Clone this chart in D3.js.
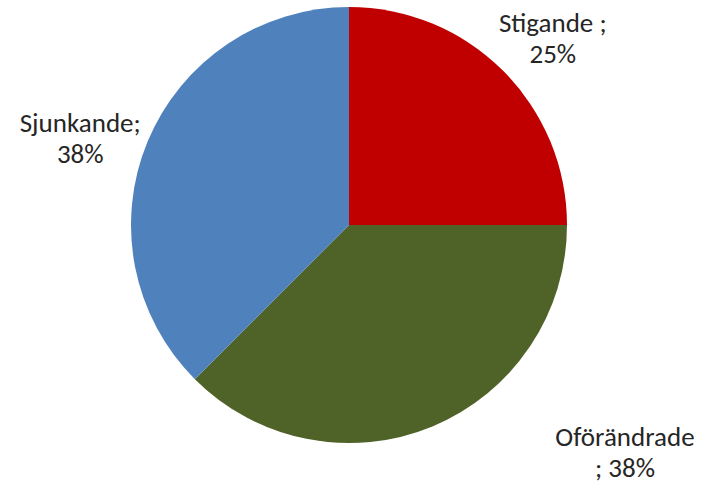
<!DOCTYPE html>
<html>
<head>
<meta charset="utf-8">
<script src="https://cdn.jsdelivr.net/npm/d3@7"></script>
<style>
  body { margin: 0; background: #fff; }
  text { font-family: Carlito, Calibri, "Liberation Sans", sans-serif; fill: #262626; }
</style>
</head>
<body>
<div id="chart"></div>
<script>
// data
var categories = ["Stigande", "Oförändrade", "Sjunkande"];
var values = [25, 37.5, 37.5];
var labelLines = [["Stigande ;", "25%"], ["Oförändrade", "; 38%"], ["Sjunkande;", "38%"]];
var colors = ["#C00000", "#4F6228", "#4F81BD"];

var width = 712, height = 483;
var cx = 349, cy = 225, radius = 218;

var svg = d3.select("#chart")
  .append("svg")
    .attr("width", width)
    .attr("height", height)
  .append("g")
    .attr("transform", `translate(${cx},${cy})`);

var pie = d3.pie().sort(null).value(function(d) { return d; });
var arcs = pie(values);

var arc = d3.arc().innerRadius(0).outerRadius(radius);

svg.selectAll("path.slice")
  .data(arcs)
  .enter().append("path")
    .attr("class", "slice")
    .attr("d", arc)
    .attr("fill", function(d, i) { return colors[i]; });

// labels sit outside the pie, nudged like the manual Excel placement
var labelArc = d3.arc().innerRadius(radius * 1.27).outerRadius(radius * 1.27);
var nudge = [[8, 10], [170, -27], [-13, 20]];

var labels = svg.selectAll("text.lbl")
  .data(arcs)
  .enter().append("text")
    .attr("class", "lbl")
    .attr("text-anchor", "middle")
    .style("font-size", "27px")
    .attr("transform", function(d, i) {
      var c = labelArc.centroid(d);
      return `translate(${c[0] + nudge[i][0]},${c[1] + nudge[i][1]})`;
    });

labels.each(function(d, i) {
  var t = d3.select(this);
  labelLines[i].forEach(function(line, j) {
    t.append("tspan")
      .attr("x", 0)
      .attr("y", (j - 0.5) * 31 + 8)
      .text(line);
  });
});
</script>
</body>
</html>
